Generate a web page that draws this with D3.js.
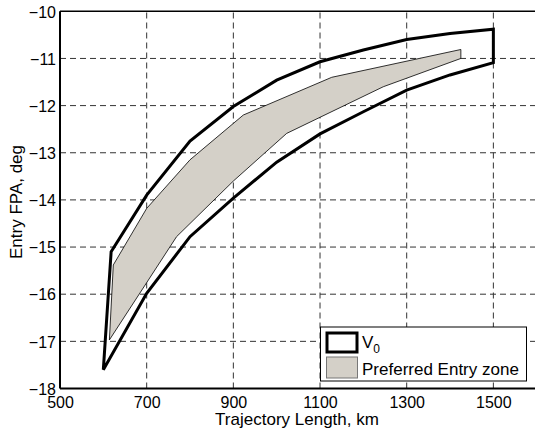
<!DOCTYPE html>
<html><head><meta charset="utf-8">
<script src="https://cdn.jsdelivr.net/npm/d3@7"></script>
<style>
body{margin:0;background:#fff;}
text{font-family:"Liberation Sans",Arial,Helvetica,sans-serif;fill:#000;}
</style></head>
<body><svg id="c" width="535" height="433"></svg>
<script>
// V0 envelope: upper boundary (left->right) and lower boundary (left->right)
const v0UpperKm = [618, 700, 800, 900, 1000, 1100, 1200, 1300, 1400, 1500];
const v0UpperFpa = [-15.1, -13.9, -12.75, -12.02, -11.46, -11.07, -10.82, -10.6, -10.47, -10.38];
const v0LowerKm = [600, 700, 800, 900, 1000, 1100, 1200, 1300, 1400, 1500];
const v0LowerFpa = [-17.6, -15.98, -14.78, -13.96, -13.2, -12.6, -12.13, -11.67, -11.35, -11.09];
// Preferred entry zone
const zoneUpperKm = [614, 623, 700, 800, 923, 1127, 1425];
const zoneUpperFpa = [-16.97, -15.38, -14.18, -13.15, -12.2, -11.4, -10.81];
const zoneLowerKm = [614, 769, 900, 1023, 1246, 1425];
const zoneLowerFpa = [-16.97, -14.78, -13.6, -12.59, -11.6, -11.0];
const xTicks = [500, 700, 900, 1100, 1300, 1500];
const yTicks = [-18, -17, -16, -15, -14, -13, -12, -11, -10];

const svg = d3.select("#c");
const x = d3.scaleLinear().domain([500, 1600]).range([60, 536.7]);
const y = d3.scaleLinear().domain([-18, -10]).range([388.5, 11.3]);

// grid
const grid = svg.append("g").attr("stroke", "#333").attr("stroke-width", 1).attr("stroke-dasharray", "6,4");
grid.selectAll("line.gx").data(xTicks.slice(1).concat([1600])).enter().append("line")
  .attr("x1", d => x(d)).attr("x2", d => x(d)).attr("y1", y(-18)).attr("y2", y(-10));
grid.selectAll("line.gy").data(yTicks.slice(1, -1)).enter().append("line")
  .attr("x1", x(500)).attr("x2", x(1600)).attr("y1", d => y(d)).attr("y2", d => y(d));

const line = d3.line().x(d => x(d[0])).y(d => y(d[1]));
const zonePts = zoneUpperKm.map((k, i) => [k, zoneUpperFpa[i]])
  .concat(zoneLowerKm.map((k, i) => [k, zoneLowerFpa[i]]).reverse());
svg.append("path").attr("d", line(zonePts) + "Z")
  .attr("fill", "#d4d0c8").attr("stroke", "#000").attr("stroke-width", 0.8);

const v0Pts = v0UpperKm.map((k, i) => [k, v0UpperFpa[i]])
  .concat(v0LowerKm.map((k, i) => [k, v0LowerFpa[i]]).reverse());
svg.append("path").attr("d", line(v0Pts) + "Z")
  .attr("fill", "none").attr("stroke", "#000").attr("stroke-width", 3).attr("stroke-linejoin", "miter");

// axes frame
svg.append("line").attr("x1", x(500)).attr("x2", x(1600)).attr("y1", y(-18)).attr("y2", y(-18)).attr("stroke", "#000").attr("stroke-width", 2);
svg.append("line").attr("x1", x(500)).attr("x2", x(1600)).attr("y1", y(-10)).attr("y2", y(-10)).attr("stroke", "#000").attr("stroke-width", 1.5);
svg.append("line").attr("x1", x(500)).attr("x2", x(500)).attr("y1", y(-18)).attr("y2", y(-10)).attr("stroke", "#000").attr("stroke-width", 2);

// tick labels
const xAxis = d3.axisBottom(x).tickValues(xTicks).tickSize(0).tickPadding(0).tickFormat(d3.format("d"));
const gx = svg.append("g").attr("transform", `translate(0,${y(-18)})`).call(xAxis);
gx.select(".domain").remove();
gx.selectAll("text").attr("font-size", 16).attr("dy", null).attr("y", 19.5);
const yAxis = d3.axisLeft(y).tickValues(yTicks).tickSize(0).tickPadding(0).tickFormat(d3.format("d"));
const gy = svg.append("g").attr("transform", `translate(${x(500)},0)`).call(yAxis);
gy.select(".domain").remove();
gy.selectAll("text").attr("font-size", 16).attr("x", -4).attr("dy", "0.36em");

// titles
svg.append("text").attr("x", 297).attr("y", 425).attr("text-anchor", "middle").attr("font-size", 17)
  .text("Trajectory Length, km");
svg.append("text").attr("transform", "translate(22,202) rotate(-90)").attr("text-anchor", "middle").attr("font-size", 17)
  .text("Entry FPA, deg");

// legend
const lg = svg.append("g");
lg.append("rect").attr("x", 320.5).attr("y", 327).attr("width", 206).attr("height", 54)
  .attr("fill", "#fff").attr("stroke", "#000").attr("stroke-width", 1);
lg.append("rect").attr("x", 327).attr("y", 333).attr("width", 30).attr("height", 19)
  .attr("fill", "#fff").attr("stroke", "#000").attr("stroke-width", 3);
lg.append("rect").attr("x", 326.5).attr("y", 357).attr("width", 31).attr("height", 21)
  .attr("fill", "#d4d0c8").attr("stroke", "#777").attr("stroke-width", 1);
const t0 = lg.append("text").attr("x", 362).attr("y", 348).attr("font-size", 17);
t0.append("tspan").text("V");
t0.append("tspan").attr("font-size", 12).attr("dy", 5).text("0");
lg.append("text").attr("x", 362).attr("y", 375).attr("font-size", 17).text("Preferred Entry zone");
</script></body></html>
